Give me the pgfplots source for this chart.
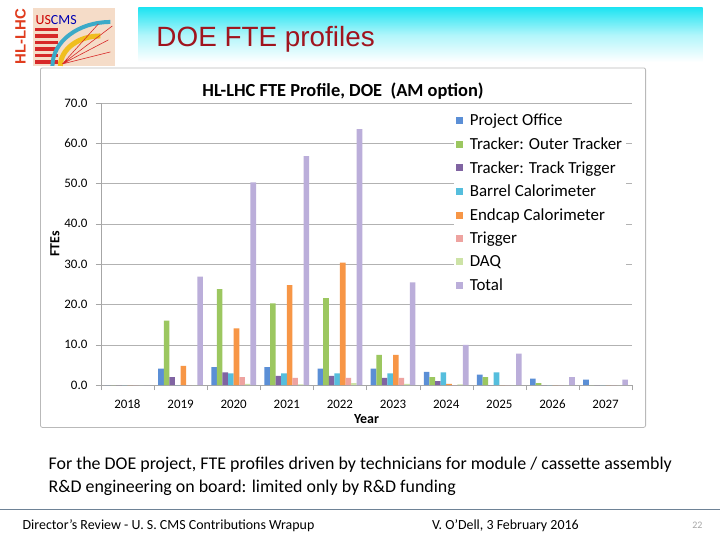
\documentclass[border=0pt]{standalone}
\usepackage{pgfplots}
\pgfplotsset{compat=1.18}
\usepackage{fontspec}
\setmainfont{Carlito}
\newfontfamily\arialfont{Liberation Sans}
\definecolor{cPO}{HTML}{5B8FD6}
\definecolor{cOT}{HTML}{9CC760}
\definecolor{cTT}{HTML}{8064A2}
\definecolor{cBC}{HTML}{55BEDD}
\definecolor{cEC}{HTML}{F79646}
\definecolor{cTR}{HTML}{EEA3A0}
\definecolor{cDQ}{HTML}{CDE3A6}
\definecolor{cTO}{HTML}{BBAEDA}
\definecolor{titlered}{HTML}{A0141E}
\definecolor{hdrcyan}{HTML}{20E4F2}
\definecolor{hlred}{HTML}{E03C1E}
\definecolor{logobg}{HTML}{F5DCC8}
\definecolor{logored}{HTML}{D72828}
\definecolor{logoyel}{HTML}{F0BE1E}
\definecolor{logoblue}{HTML}{3CAAC8}
\definecolor{footline}{HTML}{6E8296}
\begin{document}
\begin{tikzpicture}[x=1bp,y=1bp]
% page
\fill[white] (0,0) rectangle (720,-540);
% header band
\shade[top color=hdrcyan, bottom color=white, middle color=hdrcyan!35] (138,-8) rectangle (703,-62);
\node[anchor=base west, inner sep=0, text=titlered, font=\arialfont\fontsize{28}{32}\selectfont] at (156,-47) {DOE FTE profiles};
% HL-LHC vertical
\node[rotate=90, inner sep=0, text=hlred, font=\arialfont\bfseries\fontsize{15}{17}\selectfont] at (20,-37) {HL-LHC};
% logo approximation
\fill[logobg] (33,-8) rectangle (115,-66);
\foreach \k in {0,...,5}{\fill[logored] (35,{-28-\k*6.5}) rectangle (58,{-31.5-\k*6.5});}
\draw[logoyel, line width=5bp] (60,-66) arc (180:90:40 and 30);
\draw[logoblue, line width=4bp] (52,-66) arc (180:90:58 and 44);
\draw[logored, line width=0.6bp] (62,-64) -- (112,-26) (62,-64) -- (108,-40) (62,-64) -- (98,-24) (62,-64)--(110,-52);
\node[anchor=west, inner sep=0, font=\rmfamily\fontsize{14}{15}\selectfont] at (35,-20) {\textcolor{red!80!black}{US}\textcolor{blue!70!black}{CMS}};
% chart frame
\draw[gray!55, line width=0.8bp, rounded corners=2bp] (40,-68) rectangle (646,-428);
\node[inner sep=0, font=\bfseries\fontsize{18.5}{20}\selectfont] at (343,-91) {HL-LHC FTE Profile, DOE\ \ (AM option)};
\begin{axis}[
  at={(100.5bp,-385.7bp)}, anchor=south west,
  width=532bp, height=282.7bp, scale only axis,
  xmin=-0.5, xmax=9.5, ymin=0, ymax=70,
  ybar=0pt, bar width=5.6bp,
  axis x line=bottom, axis y line=left,
  axis line style={gray!70, -},
  xtick={0,...,9},
  xticklabels={2018,2019,2020,2021,2022,2023,2024,2025,2026,2027},
  major x tick style={draw=none},
  minor xtick={-0.5,0.5,...,9.5},
  minor tick length=5bp,
  minor x tick style={gray!70},
  ytick={0,10,...,70},
  major tick length=5bp,
  tick align=outside,
  y tick style={gray!70},
  ymajorgrids, grid style={gray!60, line width=0.6bp},
  /pgf/number format/assume math mode=true,
  tick label style={font=\fontsize{13}{15}\selectfont},
  xticklabel style={yshift=-6bp},
  yticklabel style={xshift=-5bp, /pgf/number format/.cd, fixed, fixed zerofill, precision=1},
  xlabel={\bfseries Year}, ylabel={\bfseries FTEs},
  label style={font=\fontsize{14}{16}\selectfont},
  xlabel style={at={(axis description cs:0.5,0)}, anchor=north, yshift=-26bp},
  ylabel style={at={(axis description cs:0,0.5)}, anchor=south, yshift=38bp},
  legend style={at={(rel axis cs:0.664,0.975)}, anchor=north west, fill=white, draw=none,
    font=\fontsize{17}{20}\selectfont, row sep=6.4bp, inner sep=2bp,
    legend cell align=left,
    /tikz/every odd column/.append style={column sep=5bp}},
  legend image code/.code={\fill[#1] (0bp,-3.5bp) rectangle (7bp,3.5bp);},
]
\addplot[fill=cPO, draw=none] coordinates {(0,0) (1,4.1) (2,4.5) (3,4.5) (4,4.1) (5,4.1) (6,3.3) (7,2.6) (8,1.6) (9,1.4)};
\addplot[fill=cOT, draw=none] coordinates {(0,0) (1,16.0) (2,23.8) (3,20.3) (4,21.6) (5,7.5) (6,2.0) (7,2.0) (8,0.5) (9,0)};
\addplot[fill=cTT, draw=none] coordinates {(0,0) (1,2.0) (2,3.2) (3,2.3) (4,2.3) (5,1.8) (6,1.0) (7,0) (8,0) (9,0)};
\addplot[fill=cBC, draw=none] coordinates {(0,0) (1,0) (2,2.9) (3,2.9) (4,2.9) (5,2.9) (6,3.2) (7,3.2) (8,0) (9,0)};
\addplot[fill=cEC, draw=none] coordinates {(0,0) (1,4.8) (2,14.1) (3,24.8) (4,30.4) (5,7.5) (6,0.3) (7,0) (8,0) (9,0)};
\addplot[fill=cTR, draw=none] coordinates {(0,0) (1,0) (2,2.0) (3,1.8) (4,1.8) (5,1.8) (6,0) (7,0) (8,0) (9,0)};
\addplot[fill=cDQ, draw=none] coordinates {(0,0) (1,0) (2,0.3) (3,0.2) (4,0.5) (5,0.3) (6,0.2) (7,0) (8,0) (9,0)};
\addplot[fill=cTO, draw=none] coordinates {(0,0) (1,26.9) (2,50.3) (3,56.8) (4,63.5) (5,25.5) (6,10.0) (7,7.8) (8,2.0) (9,1.4)};
\legend{Project Office, Tracker: Outer Tracker, Tracker: Track Trigger, Barrel Calorimeter, Endcap Calorimeter, Trigger, DAQ, Total}
\end{axis}
% bottom text
\node[anchor=base west, inner sep=0, font=\fontsize{18}{21}\selectfont] at (48,-470) {For the DOE project, FTE profiles driven by technicians for module / cassette assembly};
\node[anchor=base west, inner sep=0, font=\fontsize{18}{21}\selectfont] at (48,-493) {R\&D engineering on board: limited only by R\&D funding};
% footer
\draw[footline, line width=1bp] (0,-510) -- (720,-510);
\node[anchor=base west, inner sep=0, font=\fontsize{14}{16}\selectfont] at (22,-530) {Director's Review - U. S. CMS Contributions Wrapup};
\node[anchor=base west, inner sep=0, font=\fontsize{14}{16}\selectfont] at (432,-530) {V. O'Dell, 3 February 2016};
\node[anchor=base east, inner sep=0, text=gray!70, font=\fontsize{10}{11}\selectfont] at (703,-529) {22};
\end{tikzpicture}
\end{document}
